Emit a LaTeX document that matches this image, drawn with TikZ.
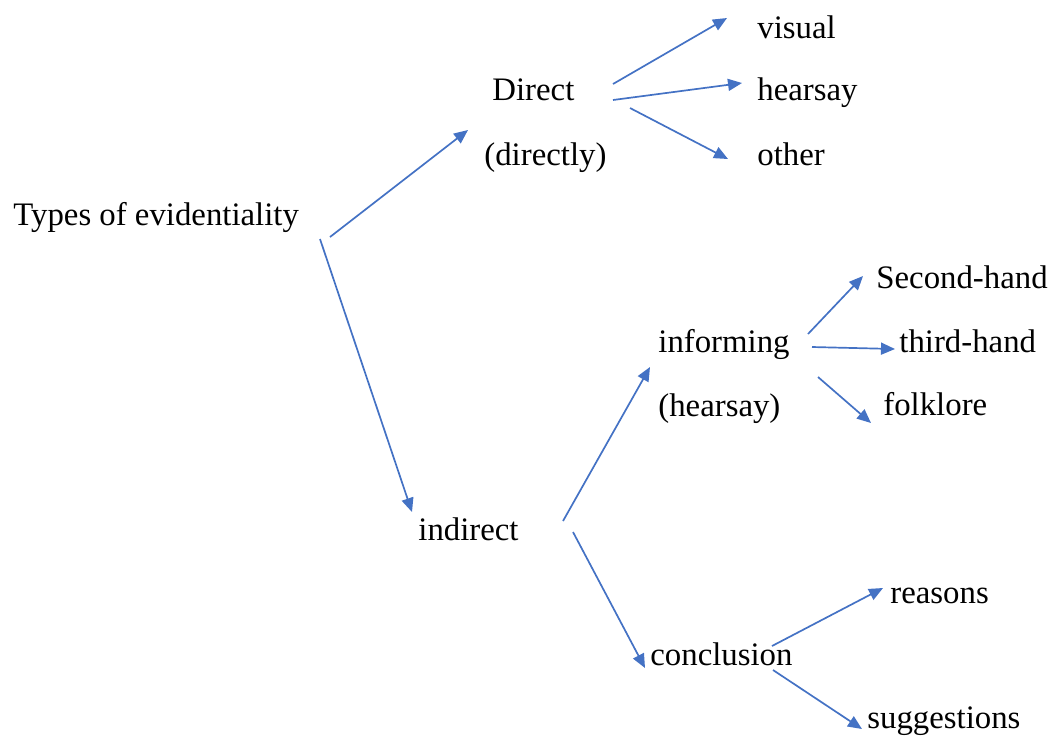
\documentclass[tikz,border=0pt]{standalone}
\usepackage{fontspec}
\setmainfont{Liberation Serif}
\usepackage{xcolor}
\usetikzlibrary{arrows.meta}
\definecolor{arrowblue}{HTML}{4472C4}

\begin{document}
\begin{tikzpicture}[x=0.5pt,y=-0.5pt,
        lbl/.style={anchor=base west,inner sep=0pt,font=\fontsize{16.4}{20}\selectfont},
        arr/.style={draw=arrowblue,line width=0.85pt,-{Triangle[length=7pt,width=6pt]}}]
        \useasboundingbox (0,0) rectangle (1050,736);

        % Root
        \node[lbl] (types) at (13,225) {Types of evidentiality};

        % Direct branch
        \node[lbl] (direct) at (492,100) {Direct};
        \node[lbl] (directly) at (484,165) {(directly)};
        \node[lbl] (visual) at (757,38) {visual};
        \node[lbl] (hearsay) at (757,100) {hearsay};
        \node[lbl] (other) at (757,165) {other};

        % Indirect branch
        \node[lbl] (indirect) at (418,540) {indirect};
        \node[lbl] (informing) at (658,352) {informing};
        \node[lbl] (hearsay2) at (658,416) {(hearsay)};
        \node[lbl] (second) at (876,288) {Second-hand};
        \node[lbl] (third) at (899,352) {third-hand};
        \node[lbl] (folklore) at (883,415) {folklore};
        \node[lbl] (conclusion) at (650,665) {conclusion};
        \node[lbl] (reasons) at (890,603) {reasons};
        \node[lbl] (suggestions) at (867,728) {suggestions};

        % Arrows
        \draw[arr] ([shift={(317,12)}]types.base west) -- ([shift={(-24,30)}]direct.base west);
        \draw[arr] ([shift={(307,14)}]types.base west) -- ([shift={(-6,-28)}]indirect.base west);

        \draw[arr] ([shift={(121,-16)}]direct.base west) -- ([shift={(-30,-20)}]visual.base west);
        \draw[arr] ([shift={(121,0)}]direct.base west) -- ([shift={(-15,-17)}]hearsay.base west);
        \draw[arr] ([shift={(138,8)}]direct.base west) -- ([shift={(-29,-6)}]other.base west);

        \draw[arr] ([shift={(145,-19)}]indirect.base west) -- ([shift={(-8,15)}]informing.base west);
        \draw[arr] ([shift={(155,-8)}]indirect.base west) -- ([shift={(-5,3)}]conclusion.base west);

        \draw[arr] ([shift={(150,-18)}]informing.base west) -- ([shift={(-13,-12)}]second.base west);
        \draw[arr] ([shift={(154,-5)}]informing.base west) -- ([shift={(-4,-3)}]third.base west);
        \draw[arr] ([shift={(160,25)}]informing.base west) -- ([shift={(-12,8)}]folklore.base west);

        \draw[arr] ([shift={(122,-19)}]conclusion.base west) -- ([shift={(-7,-15)}]reasons.base west);
        \draw[arr] ([shift={(123,5)}]conclusion.base west) -- ([shift={(-5,1)}]suggestions.base west);
    \end{tikzpicture}
\end{document}
